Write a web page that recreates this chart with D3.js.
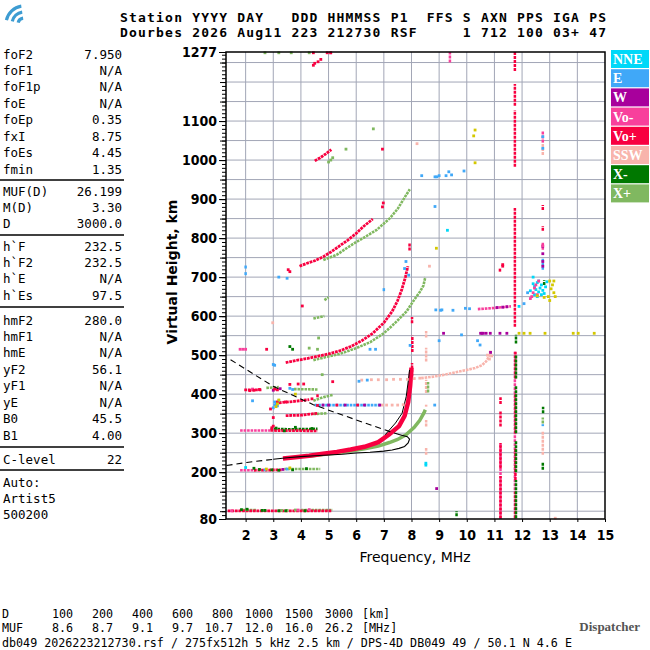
<!DOCTYPE html>
<html><head><meta charset="utf-8">
<script src="https://cdn.jsdelivr.net/npm/d3@7"></script>
<style>
body { margin: 0; background: #fff; }
svg { display: block; }
text { white-space: pre; }
</style></head><body>
<svg id="chart"></svg>
<script>
const width = 650;
const height = 650;

// axes
const freqTicks = d3.range(2, 16);
const heightLabels = [80, 200, 300, 400, 500, 600, 700, 800, 900, 1000, 1100, 1277];

// legend
const modeNames = ["NNE", "E", "W", "Vo-", "Vo+", "SSW", "X-", "X+"];
const modeColors = ["#00d8f8", "#40a8f8", "#a8009c", "#f8409c", "#f80040", "#f8b4ac", "#007800", "#80b860"];
const otherColor = "#d4c800";

// header / footer text
const headerLines = [
  "Station YYYY DAY   DDD HHMMSS P1  FFS S AXN PPS IGA PS",
  "Dourbes 2026 Aug11 223 212730 RSF     1 712 100 03+ 47"
];
const distLabels = ["100", "200", "400", "600", "800", "1000", "1500", "3000"];
const mufValues = ["8.6", "8.7", "9.1", "9.7", "10.7", "12.0", "16.0", "26.2"];
const footerLine = "db049 2026223212730.rsf / 275fx512h 5 kHz 2.5 km / DPS-4D DB049 49 / 50.1 N 4.6 E";

// scaled parameters panel
const panelLabels1 = ["foF2", "foF1", "foF1p", "foE", "foEp", "fxI", "foEs", "fmin"];
const panelValues1 = ["7.950", "N/A", "N/A", "N/A", "0.35", "8.75", "4.45", "1.35"];
const panelLabels2 = ["MUF(D)", "M(D)", "D"];
const panelValues2 = ["26.199", "3.30", "3000.0"];
const panelLabels3 = ["h`F", "h`F2", "h`E", "h`Es"];
const panelValues3 = ["232.5", "232.5", "N/A", "97.5"];
const panelLabels4 = ["hmF2", "hmF1", "hmE", "yF2", "yF1", "yE", "B0", "B1"];
const panelValues4 = ["280.0", "N/A", "N/A", "56.1", "N/A", "N/A", "45.5", "4.00"];
const panelLabels5 = ["C-level"];
const panelValues5 = ["22"];
const panelLabels6 = ["Auto:", "Artist5", "500200"];
const panelValues6 = ["", "", ""];

// echo traces [freq MHz, virtual height km]
const tracesVoPlus = [
  [[3.35,235],[3.8,238],[4.3,242],[4.8,247],[5.3,252],[5.8,258],[6.3,265],[6.8,277],[7.2,297],[7.55,318],[7.75,344],[7.88,380],[7.95,420],[8.0,468]],
  [[3.45,481],[3.8,486],[4.2,491],[4.6,497],[5.0,503],[5.4,511],[5.8,522],[6.2,537],[6.6,556],[7.0,583],[7.3,612],[7.5,640],[7.65,668],[7.78,700],[7.87,728]],
  [[3.95,728],[4.2,735],[4.5,742],[4.8,752],[5.1,765],[5.4,780],[5.7,795],[6.0,812],[6.25,829],[6.6,849]],
  [[4.5,998],[4.7,1006],[4.9,1016],[5.1,1027]],
  [[1.35,101],[5.1,101]],
  [[2.3,205],[3.3,206]],
  [[2.9,307],[4.6,306]],
  [[1.95,411],[2.6,411]],
  [[3.45,345],[4.0,346],[4.6,351]],
  [[3.2,378],[3.7,381],[4.3,386]]
];
const tracesVoMinus = [
  [[1.8,307],[2.9,307]],
  [[1.8,205],[2.3,205]],
  [[10.4,618],[11.0,621],[11.6,625]]
];
const tracesXPlus = [
  [[4.3,241],[4.8,245],[5.3,249],[5.8,254],[6.3,260],[6.8,267],[7.2,276],[7.5,284],[7.8,296],[8.1,315],[8.3,333],[8.45,352],[8.5,360]],
  [[4.45,487],[4.9,495],[5.4,503],[6.0,518],[6.5,533],[7.0,556],[7.4,582],[7.82,612],[8.1,642],[8.3,662],[8.43,678],[8.5,700]],
  [[4.81,744],[5.29,757],[5.65,774],[6.0,790],[6.25,800],[6.74,821],[7.22,851],[7.5,875],[7.7,898],[7.82,912],[7.94,925]],
  [[3.4,208],[4.7,208]],
  [[4.0,103],[5.15,103]],
  [[1.9,103],[2.4,103]],
  [[2.75,416],[3.2,418]],
  [[3.75,413],[4.6,412]],
  [[4.45,383],[4.8,392],[5.15,398]],
  [[4.45,349],[4.95,351]],
  [[4.45,594],[4.85,600]],
  [[4.85,641],[5.0,648]]
];
const tracesXMinus = [
  [[2.9,311],[3.6,310],[4.6,311]]
];
const tracesE = [
  [[4.5,372],[6.9,372]]
];
const tracesSSW = [
  [[8.35,441],[8.8,445],[9.2,450],[9.6,456],[10.0,462],[10.3,467],[10.55,474],[10.7,484],[10.8,496],[10.87,505]]
];

// vertical echo columns [freq, h0, h1]
const barsVoPlus = [
  [8.02,445,480],[8.03,508,550],[8.02,582,598],[7.93,768,786],
  [11.74,1228,1277],[11.74,1139,1195],[11.74,983,1128],[11.74,573,877],
  [11.76,440,509],[11.76,300,400],[11.76,180,260],[11.76,82,150],
  [11.22,375,392],[11.22,317,356],[11.22,210,275],[11.22,82,190],[11.2,714,723],
  [12.75,872,885],[12.75,819,831],[4.6,392,402]
];
const barsVoMinus = [[11.74,82,509],[11.22,80,275],[9.39,1250,1277],[12.75,1045,1075],[12.75,770,790]];
const barsXMinus = [[11.78,530,552],[11.78,440,500],[11.78,300,420],[11.78,200,280],[11.78,82,180],[12.75,206,226],[12.76,351,368],[9.63,87,100],[12.8,680,692]];
const barsXPlus = [[8.6,404,431],[12.75,325,340]];
const barsE = [[2.0,705,713],[2.0,722,731],[7.0,664,672],[12.75,719,749],[12.75,318,323]];
const barsW = [[12.75,775,785]];
const barsSSW = [[8.53,545,562],[8.53,484,519],[8.53,403,437],[8.53,368,373],[8.53,317,334],[8.53,245,262],[12.75,245,306],[12.75,1013,1045]];

// single echoes [freq, h]
const dotsVoPlus = [
  [6.95,880],[6.98,890],[4.45,1243],[4.5,1248],[4.62,1252],[4.72,1258],[4.45,1275],[4.95,1275],[5.08,1275],
  [6.95,1028],[3.54,719],[3.6,714],[2.76,515],[3.0,340],[3.15,380],[3.6,425],[3.9,426],[4.1,426],[4.05,626],
  [5.15,432],[11.3,732],[11.3,728],[2.15,409],[2.3,410],[2.5,412],[2.95,314],[3.0,318],[3.45,380],
  [4.6,371],[5.3,372],[6.05,372],[3.05,413],[3.15,411],[4.4,388],[2.9,362]
];
const dotsVoMinus = [
  [1.8,515],[1.9,515],[2.0,515],[5.07,1275],[1.5,101],[3.9,103],[4.3,104],[2.25,413],
  [12.3,645],[12.35,650],[12.4,660],[12.45,672],[12.5,680],[12.55,655],[12.6,690],[12.75,780]
];
const dotsXPlus = [
  [5.0,995],[5.08,1000],[5.15,1006],[2.7,1275],[3.2,1275],[3.65,1275],[4.3,1275],[5.63,1028],[6.62,1080],
  [4.64,544],[4.77,450],[4.3,518],[4.6,515],[3.3,102],[3.5,102],[3.8,103],[2.05,104]
];
const dotsXMinus = [
  [1.85,104],[2.05,105],[2.6,102],[2.7,102],[3.2,101],[3.45,101],[4.15,101],
  [2.3,210],[2.5,207],[2.95,206],[3.2,205],[3.7,206],[4.2,209],
  [3.1,313],[3.4,306],[3.8,315],[4.4,312],[3.6,522],[3.7,515]
];
const dotsE = [
  [3.2,700],[3.5,697],[2.25,383],[3.0,476],[3.05,474],[6.1,433],[6.4,436],[6.5,515],[6.7,515],[7.95,525],
  [8.37,960],[8.85,957],[8.92,957],[9.0,960],[9.25,960],[9.35,970],[9.45,962],[9.9,972],[8.85,881],
  [7.8,740],[7.75,722],[7.9,705],[8.88,616],[9.05,615],[9.1,616],[9.5,615],[9.95,620],[10.1,619],
  [9.0,537],[10.39,537],[10.48,526],[9.81,552],[8.84,372],[12.2,660],[12.07,632],[12.75,1030],[12.75,1060],
  [3.0,365],[3.05,372],[3.05,380],[3.1,376],[3.15,370],[3.2,383],[2.7,206],[3.5,208],[3.6,415],[3.7,412]
];
const dotsNNE = [
  [12.4,683],[12.45,676],[12.5,668],[12.55,686],[12.6,662],[12.65,672],[12.7,680],[12.75,666],[12.8,658],
  [12.55,650],[12.45,655],[12.85,675],[12.6,690],[12.7,655],[12.3,665],[9.3,820],[8.52,218],[8.52,223],
  [11.89,625],[12.4,700],[12.9,688],[2.0,212]
];
const dotsW = [
  [4.8,372],[5.0,372],[5.6,372],[6.3,372],[6.85,372],[9.16,556],[10.5,556],[10.55,556],[10.6,556],[10.7,556],
  [10.85,556],[11.2,556],[11.45,556],[8.91,158],[10.86,507],[11.1,622],[11.3,623],[11.45,624],
  [12.75,760],[12.75,740],[12.75,728],[3.35,207],[3.0,410],[3.25,414]
];
const dotsSSW = [
  [8.2,1042],[8.65,728],[13.2,82],[2.98,583],[10.75,500],[10.82,490],[10.9,498],[10.85,508],
  [6.2,436],[6.55,437],[6.8,437],[7.1,437],[7.35,438],[7.6,438],[7.85,438],[8.1,440],[8.3,441],
  [6.95,372],[7.1,372],[7.3,372],[7.5,372],[7.7,373]
];
const dotsOther = [
  [10.25,1062],[10.3,1077],[10.3,993],[8.9,774],[11.89,556],[12.07,556],[12.29,556],[12.83,556],[13.85,556],
  [14.03,556],[14.61,556],[13.0,690],[13.1,680],[13.15,690],[13.05,670],[13.15,660],[13.2,650],[12.95,650],
  [12.8,648],[12.55,652],[13.0,640],[3.1,368],[3.15,375],[3.2,385],[2.75,208],[3.6,211],[3.8,400]
];

// ARTIST profile (true height) and fitted o-trace
const profileSolid = [[3.0,233],[3.5,237],[4.0,240],[4.5,242],[5.0,244],[5.5,246],[6.0,249],[6.5,251],[7.0,254],[7.3,257],[7.55,261],[7.75,266],[7.88,275],[7.93,285],[7.85,291],[7.58,296]];
const profileTopDashed = [[7.58,296],[7.22,304],[6.0,334],[4.45,373],[3.0,420],[1.37,492]];
const profileBottomDashed = [[1.31,217],[2.04,225],[3.0,233]];
const fittedTrace = [[7.05,296],[7.42,326],[7.66,351],[7.81,394],[7.89,437],[7.93,462]];

const svg = d3.select("#chart")
  .attr("width", width)
  .attr("height", height);

const x = d3.scaleLinear().domain([1.29, 15]).range([226, 605]);
const y = d3.scaleLinear().domain([80, 1277]).range([519, 52]);

const mono = "'DejaVu Sans Mono', monospace";
const narrow = "'Liberation Sans Narrow', 'DejaVu Sans Condensed', sans-serif";

// icon
const icon = svg.append("g").attr("transform", "translate(24,24)");
[18, 12, 6].forEach(r => {
  icon.append("path")
    .attr("d", d3.arc()({ innerRadius: r - 1.6, outerRadius: r + 1.6, startAngle: -1.35, endAngle: -0.15 }))
    .attr("fill", "#3d9cd2");
});

// header
svg.selectAll(".hdr")
  .data(headerLines)
  .join("text")
  .attr("x", 120)
  .attr("y", (d, i) => 22 + i * 14.5)
  .attr("textLength", 486)
  .attr("lengthAdjust", "spacing")
  .style("font-family", mono)
  .style("font-weight", "bold")
  .style("font-size", "13px")
  .text(d => d);

// left panel
const groups = [
  [panelLabels1, panelValues1, 54],
  [panelLabels2, panelValues2, 191],
  [panelLabels3, panelValues3, 246],
  [panelLabels4, panelValues4, 320],
  [panelLabels5, panelValues5, 459],
  [panelLabels6, panelValues6, 482]
];
const rowStep = 16.45;
const panel = svg.append("g").style("font-family", mono).style("font-size", "12.5px");
groups.forEach(([labels, values, y0]) => {
  labels.forEach((lab, i) => {
    panel.append("text").attr("x", 3).attr("y", y0 + i * rowStep + 4.5).text(lab);
    panel.append("text").attr("x", 122).attr("y", y0 + i * rowStep + 4.5)
      .attr("text-anchor", "end").text(values[i]);
  });
});
[180, 235, 307, 447, 470].forEach(ly => {
  panel.append("line").attr("x1", 0).attr("x2", 124).attr("y1", ly).attr("y2", ly)
    .attr("stroke", "#000").attr("stroke-width", 1.5);
});

// grid
const grid = svg.append("g").attr("stroke", "#a2a6b6").attr("stroke-width", 1);
grid.selectAll(".gv").data(d3.range(2, 15)).join("line")
  .attr("x1", d => x(d)).attr("x2", d => x(d)).attr("y1", y(80)).attr("y2", y(1277));
grid.selectAll(".gh").data(d3.range(100, 1277, 50)).join("line")
  .attr("x1", x(1.29)).attr("x2", x(15)).attr("y1", d => y(d)).attr("y2", d => y(d));

// echoes
const colorOf = name => modeColors[modeNames.indexOf(name)];
const line = d3.line().x(d => x(d[0])).y(d => y(d[1]));
const plot = svg.append("g");

const traceLayers = [
  ["SSW", tracesSSW], ["E", tracesE], ["X+", tracesXPlus], ["X-", tracesXMinus],
  ["Vo-", tracesVoMinus]
];
traceLayers.forEach(([m, list]) => {
  plot.append("g").selectAll("path").data(list).join("path")
    .attr("d", line)
    .attr("fill", "none")
    .attr("stroke", colorOf(m))
    .attr("stroke-width", (d, i) => (m === "X+" && i === 0) ? 3.5 : 2.6)
    .attr("stroke-dasharray", (d, i) => (m === "X+" && i === 0) ? null : "2.6,0.9");
});

plot.append("g").selectAll("path").data(tracesVoPlus).join("path")
  .attr("d", line)
  .attr("fill", "none")
  .attr("stroke", colorOf("Vo+"))
  .attr("stroke-width", (d, i) => i === 0 ? 4.5 : 2.8)
  .attr("stroke-dasharray", (d, i) => i === 0 ? null : "2.8,0.8");

// fitted virtual-height trace, visible along the left edge of the o-trace
plot.append("path").attr("d", line(fittedTrace))
  .attr("fill", "none").attr("stroke", "#000").attr("stroke-width", 1);

const barLayers = [
  ["SSW", barsSSW], ["Vo-", barsVoMinus], ["Vo+", barsVoPlus], ["X-", barsXMinus],
  ["X+", barsXPlus], ["E", barsE], ["W", barsW]
];
barLayers.forEach(([m, list]) => {
  plot.append("g").selectAll("line").data(list).join("line")
    .attr("x1", d => x(d[0])).attr("x2", d => x(d[0]))
    .attr("y1", d => y(d[1])).attr("y2", d => y(d[2]))
    .attr("stroke", colorOf(m))
    .attr("stroke-width", 2.5)
    .attr("stroke-dasharray", "3,1");
});

const dotLayers = [
  [colorOf("SSW"), dotsSSW], [colorOf("X+"), dotsXPlus], [colorOf("X-"), dotsXMinus],
  [colorOf("E"), dotsE], [colorOf("NNE"), dotsNNE], [colorOf("W"), dotsW],
  [colorOf("Vo-"), dotsVoMinus], [colorOf("Vo+"), dotsVoPlus], [otherColor, dotsOther]
];
dotLayers.forEach(([c, list]) => {
  plot.append("g").selectAll("rect").data(list).join("rect")
    .attr("x", d => x(d[0]) - 1.4).attr("y", d => y(d[1]) - 1.4)
    .attr("width", 2.8).attr("height", 2.8)
    .attr("fill", c);
});

// profile
const prof = svg.append("g").attr("fill", "none").attr("stroke", "#000").attr("stroke-width", 1.1);
prof.append("path").attr("d", line(profileSolid));
prof.append("path").attr("d", line(profileTopDashed)).attr("stroke-dasharray", "6,4");
prof.append("path").attr("d", line(profileBottomDashed)).attr("stroke-dasharray", "6,4");

// frame
svg.append("rect")
  .attr("x", x(1.29)).attr("y", y(1277))
  .attr("width", x(15) - x(1.29)).attr("height", y(80) - y(1277))
  .attr("fill", "none").attr("stroke", "#000").attr("stroke-width", 1.5);

// y axis
const yMinor = svg.append("g").attr("transform", `translate(${x(1.29)},0)`)
  .call(d3.axisLeft(y).tickValues(d3.range(80, 1277, 10)).tickSize(4).tickFormat(""));
yMinor.select(".domain").remove();
const yMid = svg.append("g").attr("transform", `translate(${x(1.29)},0)`)
  .call(d3.axisLeft(y).tickValues(d3.range(100, 1277, 50)).tickSize(6).tickFormat(""));
yMid.select(".domain").remove();
const yAxis = svg.append("g").attr("transform", `translate(${x(1.29)},0)`)
  .call(d3.axisLeft(y).tickValues(heightLabels).tickSize(7).tickPadding(2).tickFormat(d3.format("d")));
yAxis.select(".domain").remove();
yAxis.selectAll("text")
  .style("font-family", narrow).style("font-weight", "bold").style("font-size", "14px").attr("fill", "#000");

// x axis
const xAxis = svg.append("g").attr("transform", `translate(0,${y(80)})`)
  .call(d3.axisBottom(x).tickValues(freqTicks).tickSize(3).tickPadding(8).tickFormat(d3.format("d")));
xAxis.select(".domain").remove();
xAxis.selectAll("text")
  .style("font-family", narrow).style("font-weight", "bold").style("font-size", "14px").attr("fill", "#000");

svg.append("text")
  .attr("x", 415).attr("y", 562)
  .attr("text-anchor", "middle")
  .style("font-family", "'DejaVu Sans', sans-serif").style("font-size", "14px")
  .text("Frequency, MHz");

svg.append("text")
  .attr("transform", "translate(177,272) rotate(-90)")
  .attr("text-anchor", "middle")
  .style("font-family", "'DejaVu Sans', sans-serif").style("font-size", "14px").style("font-weight", "bold")
  .text("Virtual Height, km");

// legend
const legend = svg.append("g");
legend.selectAll("rect").data(modeNames).join("rect")
  .attr("x", 611).attr("y", (d, i) => 50 + i * 19.2)
  .attr("width", 38).attr("height", 18)
  .attr("fill", (d, i) => modeColors[i]);
legend.selectAll("text").data(modeNames).join("text")
  .attr("x", 613).attr("y", (d, i) => 50 + i * 19.2 + 14)
  .attr("fill", "#fff")
  .style("font-family", "'Liberation Serif', serif").style("font-weight", "bold").style("font-size", "14px")
  .text(d => d);

// footer
const foot = svg.append("g").style("font-family", mono).style("font-size", "11.7px");
foot.append("text").attr("x", 2).attr("y", 618).text("D");
foot.append("text").attr("x", 2).attr("y", 632).text("MUF");
distLabels.forEach((d, i) => {
  foot.append("text").attr("x", 73 + i * 40).attr("y", 618).attr("text-anchor", "end").text(d);
  foot.append("text").attr("x", 73 + i * 40).attr("y", 632).attr("text-anchor", "end").text(mufValues[i]);
});
foot.append("text").attr("x", 362).attr("y", 618).text("[km]");
foot.append("text").attr("x", 362).attr("y", 632).text("[MHz]");
foot.append("text").attr("x", 2).attr("y", 647).text(footerLine);

svg.append("text")
  .attr("x", 640).attr("y", 631)
  .attr("text-anchor", "end")
  .attr("fill", "#555")
  .style("font-family", "'Liberation Serif', serif").style("font-weight", "bold").style("font-size", "13px")
  .text("Dispatcher");
</script></body></html>
